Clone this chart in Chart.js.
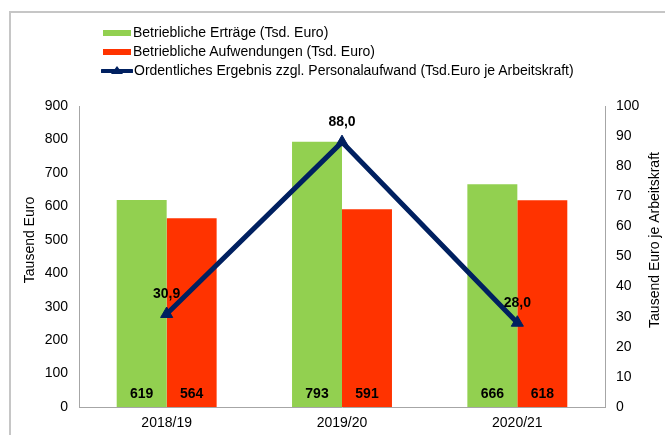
<!DOCTYPE html>
<html>
<head>
<meta charset="utf-8">
<script src="https://cdn.jsdelivr.net/npm/chart.js@4"></script>
<style>
  body { margin: 0; background: #fff; font-family: "Liberation Sans", Arial, sans-serif; }
  #wrap { position: relative; width: 665px; height: 435px; overflow: hidden; }
  #frame { position: absolute; left: 9px; top: 11px; width: 700px; height: 500px;
           border-left: 2px solid #c6c6c6; border-top: 2px solid #c6c6c6; }
  #chart { position: absolute; left: 0; top: 0; }
  #legend { position: absolute; left: 101px; top: 23px; font-size: 14px; color: #000; }
  #legend div { height: 19px; line-height: 19px; white-space: nowrap; }
  #legend .box { display: inline-block; width: 28px; height: 6px; margin: 0 2px 0 2px; vertical-align: middle; }
  #legend svg { vertical-align: middle; margin-right: 1px; }
</style>
</head>
<body>
<div id="wrap">
  <div id="frame"></div>
  <canvas id="chart" width="665" height="435"></canvas>
  <div id="legend"></div>
</div>
<script>
const years = ['2018/19', '2019/20', '2020/21'];
const ertraege = [619, 793, 666];
const aufwendungen = [564, 591, 618];
const ergebnis = [30.9, 88.0, 28.0];
const axisTitles = ['Tausend Euro', 'Tausend Euro je Arbeitskraft'];

const green = '#92d050';
const red = '#ff3300';
const navy = '#002060';
const font = '"Liberation Sans", Arial, sans-serif';

Chart.defaults.font.family = font;
Chart.defaults.font.size = 14;
Chart.defaults.color = '#000';

// labels on bars (bottom) and above the line points
const valueLabels = {
  id: 'valueLabels',
  afterDatasetsDraw(chart) {
    const ctx = chart.ctx;
    ctx.save();
    ctx.font = 'bold 14px ' + font;
    ctx.fillStyle = '#000';
    ctx.textAlign = 'center';
    ctx.textBaseline = 'middle';
    chart.data.datasets.forEach((ds, i) => {
      const meta = chart.getDatasetMeta(i);
      meta.data.forEach((el, j) => {
        if (ds.type === 'line') {
          ctx.fillText(ds.data[j].toFixed(1).replace('.', ','), el.x, el.y - 20);
        } else {
          ctx.fillText(String(ds.data[j]), el.x, chart.chartArea.bottom - 13);
        }
      });
    });
    ctx.restore();
  }
};

// both axis titles read bottom-to-top, like in the original
const sideTitles = {
  id: 'sideTitles',
  afterDraw(chart) {
    const ctx = chart.ctx;
    const cy = chart.chartArea.top + 134;
    ctx.save();
    ctx.font = '14px ' + font;
    ctx.fillStyle = '#000';
    ctx.textAlign = 'center';
    ctx.textBaseline = 'middle';
    [[30, axisTitles[0]], [655, axisTitles[1]]].forEach(([x, t]) => {
      ctx.save();
      ctx.translate(x, cy);
      ctx.rotate(-Math.PI / 2);
      ctx.fillText(t, 0, 0);
      ctx.restore();
    });
    ctx.restore();
  }
};

const chart = new Chart('chart', {
  data: {
    labels: years,
    datasets: [{
      type: 'line',
      label: 'Ordentliches Ergebnis zzgl. Personalaufwand (Tsd.Euro je Arbeitskraft)',
      data: ergebnis,
      yAxisID: 'y1',
      borderColor: navy,
      backgroundColor: navy,
      borderWidth: 5,
      pointStyle: 'triangle',
      pointRadius: 7,
      pointBorderWidth: 1,
      tension: 0,
      order: 0
    }, {
      type: 'bar',
      label: 'Betriebliche Erträge (Tsd. Euro)',
      data: ertraege,
      yAxisID: 'y',
      backgroundColor: green,
      categoryPercentage: 0.57,
      barPercentage: 1.0,
      order: 1
    }, {
      type: 'bar',
      label: 'Betriebliche Aufwendungen (Tsd. Euro)',
      data: aufwendungen,
      yAxisID: 'y',
      backgroundColor: red,
      categoryPercentage: 0.57,
      barPercentage: 1.0,
      order: 2
    }]
  },
  options: {
    responsive: false,
    animation: false,
    layout: { padding: { top: 106, left: 0, right: 0, bottom: 0 } },
    plugins: {
      legend: { display: false },
      tooltip: { enabled: false }
    },
    scales: {
      x: {
        grid: { display: false, drawTicks: false },
        border: { color: '#a6a6a6' },
        ticks: { padding: 8 },
        afterFit: s => { s.height = 28; }
      },
      y: {
        position: 'left',
        min: 0, max: 900,
        grid: { display: false, drawTicks: false },
        border: { color: '#a6a6a6' },
        ticks: { stepSize: 100, padding: 11 },
        afterFit: s => { s.width = 79; }
      },
      y1: {
        position: 'right',
        min: 0, max: 100,
        grid: { display: false, drawTicks: false },
        border: { color: '#a6a6a6' },
        ticks: { stepSize: 10, padding: 11 },
        afterFit: s => { s.width = 60; }
      }
    }
  },
  plugins: [valueLabels, sideTitles]
});

// legend, one entry per row, in the order of the original
const legend = document.getElementById('legend');
[1, 2, 0].forEach(i => {
  const ds = chart.data.datasets[i];
  const row = document.createElement('div');
  if (ds.type === 'line') {
    row.innerHTML = '<svg width="32" height="10"><line x1="1" y1="5" x2="31" y2="5" stroke="' + navy +
      '" stroke-width="4" stroke-linecap="round"/><polygon points="16,0 22,8 10,8" fill="' + navy + '"/></svg>';
  } else {
    row.innerHTML = '<span class="box" style="background:' + ds.backgroundColor + '"></span>';
  }
  row.appendChild(document.createTextNode(ds.label));
  legend.appendChild(row);
});
</script>
</body>
</html>
